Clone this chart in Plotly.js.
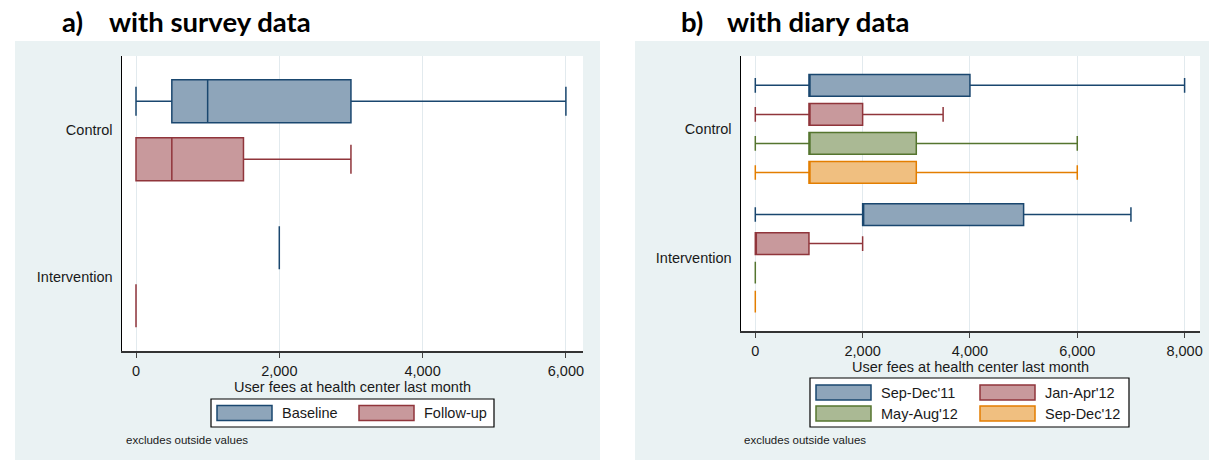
<!DOCTYPE html>
<html>
<head>
<meta charset="utf-8">
<script src="https://cdn.plot.ly/plotly-3.0.1.min.js"></script>
<style>
  body { margin: 0; background: #ffffff; }
  #panelA { position: absolute; left: 0; top: 0; width: 605px; height: 460px; }
  #panelB { position: absolute; left: 605px; top: 0; width: 604px; height: 460px; }
</style>
</head>
<body>
<div id="panelA"></div>
<div id="panelB"></div>
<script>
// ---------------- DATA ----------------
const groups = ['Control', 'Intervention'];

// Panel a) survey data
const surveyLabel = 'a)';
const surveyTitle = 'with survey data';
const surveySeries = ['Baseline', 'Follow-up'];
const baselineLower  = [0, 2000];
const baselineQ1     = [500, 2000];
const baselineMedian = [1000, 2000];
const baselineQ3     = [3000, 2000];
const baselineUpper  = [6000, 2000];
const followupLower  = [0, 0];
const followupQ1     = [0, 0];
const followupMedian = [500, 0];
const followupQ3     = [1500, 0];
const followupUpper  = [3000, 0];

// Panel b) diary data
const diaryLabel = 'b)';
const diaryTitle = 'with diary data';
const diarySeries = ["Sep-Dec'11", "Jan-Apr'12", "May-Aug'12", "Sep-Dec'12"];
const sepDec11Lower  = [0, 0];
const sepDec11Q1     = [1000, 2000];
const sepDec11Median = [1000, 2000];
const sepDec11Q3     = [4000, 5000];
const sepDec11Upper  = [8000, 7000];
const janApr12Lower  = [0, 0];
const janApr12Q1     = [1000, 0];
const janApr12Median = [1000, 0];
const janApr12Q3     = [2000, 1000];
const janApr12Upper  = [3500, 2000];
const mayAug12Lower  = [0, 0];
const mayAug12Q1     = [1000, 0];
const mayAug12Median = [1000, 0];
const mayAug12Q3     = [3000, 0];
const mayAug12Upper  = [6000, 0];
const sepDec12Lower  = [0, 0];
const sepDec12Q1     = [1000, 0];
const sepDec12Median = [1000, 0];
const sepDec12Q3     = [3000, 0];
const sepDec12Upper  = [6000, 0];

const xTitle = 'User fees at health center last month';
const note = 'excludes outside values';

// ---------------- STYLE ----------------
const lineColors = ['#1a476f', '#90353b', '#55752f', '#e37e00'];
const fillColors = ['#8ea5ba', '#c8999c', '#aab994', '#f0bf80'];
const BG = '#eaf2f3';
const TXT = '#1a1a1a';
const FONT = 'Liberation Sans, Arial, sans-serif';
const TFONT = 'Lato, Noto Sans, sans-serif';

function boxTrace(name, lower, q1, med, q3, upper, i) {
  return {
    type: 'box', orientation: 'h', name: name,
    y: groups, q1: q1, median: med, q3: q3, lowerfence: lower, upperfence: upper,
    boxpoints: false, whiskerwidth: 0.67,
    line: { color: lineColors[i], width: 1.5 },
    fillcolor: fillColors[i], hoverinfo: 'skip'
  };
}

function makeLayout(cfg) {
  const W = cfg.W, H = cfg.H, m = cfg.margin;
  const pw = W - m.l - m.r, ph = H - m.t - m.b, pb = H - m.b;
  const px = x => (x - m.l) / pw;
  const py = y => (pb - y) / ph;
  const shapes = [
    { type: 'rect', xref: 'paper', yref: 'paper', layer: 'below',
      x0: px(cfg.bg[0]), x1: px(cfg.bg[1]), y0: py(cfg.bg[2]), y1: py(cfg.bg[3]),
      fillcolor: BG, line: { width: 0 } },
    { type: 'rect', xref: 'paper', yref: 'paper', layer: 'below',
      x0: 0, x1: 1, y0: 0, y1: 1, fillcolor: '#ffffff', line: { width: 0 } },
    { type: 'rect', xref: 'paper', yref: 'paper', layer: 'above',
      x0: px(cfg.leg[0]), x1: px(cfg.leg[1]), y0: py(cfg.leg[2]), y1: py(cfg.leg[3]),
      fillcolor: '#ffffff', line: { color: '#000000', width: 1.2 } }
  ];
  const annotations = [
    { xref: 'paper', yref: 'paper', x: px(cfg.lab[0]), y: py(cfg.lab[1]), xanchor: 'left', yanchor: 'middle',
      text: cfg.label, showarrow: false, font: { family: TFONT, size: 27.5, weight: 700, color: '#000' } },
    { xref: 'paper', yref: 'paper', x: px(cfg.tit[0]), y: py(cfg.lab[1]), xanchor: 'left', yanchor: 'middle',
      text: cfg.title, showarrow: false, font: { family: TFONT, size: 27.5, weight: 700, color: '#000' } },
    { xref: 'paper', yref: 'paper', x: px(cfg.note[0]), y: py(cfg.note[1]), xanchor: 'left', yanchor: 'middle',
      text: note, showarrow: false, font: { family: FONT, size: 11.5, color: TXT } }
  ];
  cfg.items.forEach((it, k) => {
    shapes.push({ type: 'rect', xref: 'paper', yref: 'paper', layer: 'above',
      x0: px(it.sx), x1: px(it.sx + 55), y0: py(it.y - 7.5), y1: py(it.y + 7.5),
      fillcolor: fillColors[k], line: { color: lineColors[k], width: 1.5 } });
    annotations.push({ xref: 'paper', yref: 'paper', x: px(it.tx), y: py(it.y), xanchor: 'left', yanchor: 'middle',
      text: cfg.names[k], showarrow: false, font: { family: FONT, size: 14.5, color: TXT } });
  });
  return {
    width: W, height: H, margin: Object.assign({ pad: 0, autoexpand: false }, m),
    paper_bgcolor: 'rgba(0,0,0,0)', plot_bgcolor: 'rgba(0,0,0,0)',
    boxmode: 'group', boxgap: cfg.boxgap, boxgroupgap: cfg.boxgroupgap,
    showlegend: false,
    font: { family: FONT, size: 14.5, color: TXT },
    xaxis: {
      range: cfg.xrange, tick0: 0, dtick: 2000, tickformat: ',',
      ticks: 'outside', ticklen: 5, tickwidth: 1, tickcolor: '#444',
      showgrid: true, gridcolor: '#e2eaee', gridwidth: 1, zeroline: false,
      showline: true, linecolor: '#333', linewidth: 1.5,
      ticklabelstandoff: 1,
      title: { text: xTitle, standoff: 0, font: { family: FONT, size: 14.5, color: TXT } },
      automargin: false, fixedrange: true
    },
    yaxis: {
      type: 'category', range: cfg.yrange,
      showgrid: false, zeroline: false, showline: true, linecolor: '#000', linewidth: 1.5,
      ticks: '', ticklabelstandoff: 5, automargin: false, fixedrange: true
    },
    shapes: shapes, annotations: annotations
  };
}

// Panel a
const tracesA = [
  boxTrace(surveySeries[0], baselineLower, baselineQ1, baselineMedian, baselineQ3, baselineUpper, 0),
  boxTrace(surveySeries[1], followupLower, followupQ1, followupMedian, followupQ3, followupUpper, 1)
];
const layoutA = makeLayout({
  W: 605, H: 460, margin: { l: 122, r: 22, t: 56, b: 109 },
  bg: [15, 600, 460, 41], leg: [211, 494, 427, 399],
  lab: [60, 21], tit: [107, 21], note: [124, 440],
  label: surveyLabel, title: surveyTitle,
  names: surveySeries,
  items: [{ sx: 217, tx: 280, y: 413 }, { sx: 359, tx: 422, y: 413 }],
  boxgap: 0.208, boxgroupgap: 0.259,
  xrange: [-195.4, 6238.7], yrange: [1.507, -0.507]
});

// Panel b
const tracesB = [
  boxTrace(diarySeries[0], sepDec11Lower, sepDec11Q1, sepDec11Median, sepDec11Q3, sepDec11Upper, 0),
  boxTrace(diarySeries[1], janApr12Lower, janApr12Q1, janApr12Median, janApr12Q3, janApr12Upper, 1),
  boxTrace(diarySeries[2], mayAug12Lower, mayAug12Q1, mayAug12Median, mayAug12Q3, mayAug12Upper, 2),
  boxTrace(diarySeries[3], sepDec12Lower, sepDec12Q1, sepDec12Median, sepDec12Q3, sepDec12Upper, 3)
];
const layoutB = makeLayout({
  W: 604, H: 460, margin: { l: 136, r: 9, t: 56, b: 129 },
  bg: [30, 604, 460, 41], leg: [205, 524, 427, 378],
  lab: [74, 21], tit: [120, 21], note: [137, 440],
  label: diaryLabel, title: diaryTitle,
  names: diarySeries,
  items: [{ sx: 211, tx: 274, y: 392.5 }, { sx: 375, tx: 438, y: 392.5 },
          { sx: 211, tx: 274, y: 413.5 }, { sx: 375, tx: 438, y: 413.5 }],
  boxgap: 0.102, boxgroupgap: 0.252,
  xrange: [-266.5, 8287], yrange: [1.564, -0.564]
});

const config = { displayModeBar: false, staticPlot: true };
Plotly.newPlot('panelA', tracesA, layoutA, config);
Plotly.newPlot('panelB', tracesB, layoutB, config);
</script>
</body>
</html>
